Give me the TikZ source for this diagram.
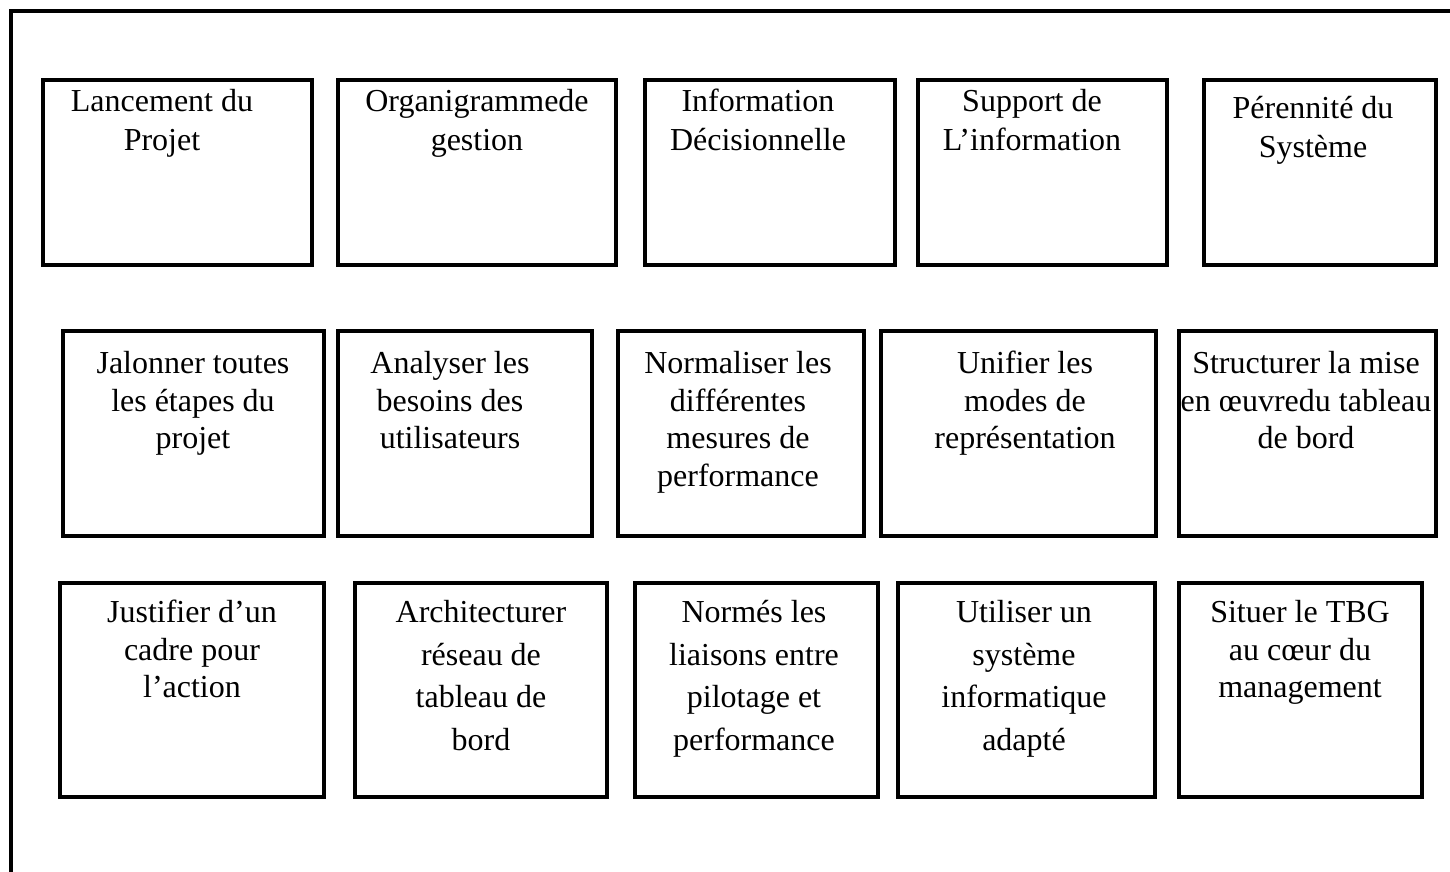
\documentclass[tikz,border=0pt]{standalone}
\usepackage{fontspec}
\setmainfont{Liberation Serif}
\usetikzlibrary{fit}
% fixed-height strut so that every first line sits at the same baseline
\newcommand\topstrut{\rule{0pt}{13pt}}
\begin{document}
\begin{tikzpicture}[x=0.5pt,y=-0.5pt,
  frame/.style={line width=2pt},
  cell/.style={draw, line width=2pt, rectangle, inner sep=0pt},
  txt/.style={anchor=north, align=center, inner sep=0pt, execute at begin node=\topstrut},
  txtA/.style={txt, font=\fontsize{16}{19.5}\selectfont},
  txtB/.style={txt, font=\fontsize{16}{18.75}\selectfont},
  txtC/.style={txt, font=\fontsize{16}{21.25}\selectfont}]
\useasboundingbox (0,0) rectangle (1450,872);
\clip (0,0) rectangle (1450,872);

% outer frame (runs past the page on the right and at the bottom)
\draw[frame] (11,11) rectangle (1480,900);

% row 1
\node[cell, fit={(43,80) (312,265)}] (b11) {};
\node[cell, fit={(338,80) (616,265)}] (b12) {};
\node[cell, fit={(645,80) (895,265)}] (b13) {};
\node[cell, fit={(918,80) (1167,265)}] (b14) {};
\node[cell, fit={(1204,80) (1436,265)}] (b15) {};

\node[txtA] (t11) at (162,88.5) {Lancement du\\Projet};
\node[txtA] (t12) at (477,88.5) {Organigrammede\\gestion};
\node[txtA] (t13) at (758,88.5) {Information\\Décisionnelle};
\node[txtA] (t14) at (1032,88.5) {Support de\\L’information};
\node[txtA] (t15) at (1313,95.5) {Pérennité du\\Système};

% row 2
\node[cell, fit={(63,331) (324,536)}] (b21) {};
\node[cell, fit={(338,331) (592,536)}] (b22) {};
\node[cell, fit={(618,331) (864,536)}] (b23) {};
\node[cell, fit={(881,331) (1156,536)}] (b24) {};
\node[cell, fit={(1179,331) (1436,536)}] (b25) {};

\node[txtB] (t21) at (193,351) {Jalonner toutes\\les étapes du\\projet};
\node[txtB] (t22) at (450,351) {Analyser les\\besoins des\\utilisateurs};
\node[txtB] (t23) at (738,351) {Normaliser les\\différentes\\mesures de\\performance};
\node[txtB] (t24) at (1025,351) {Unifier les\\modes de\\représentation};
\node[txtB] (t25) at (1306,351) {Structurer la mise\\en œuvredu tableau\\de bord};

% row 3
\node[cell, fit={(60,583) (324,797)}] (b31) {};
\node[cell, fit={(355,583) (607,797)}] (b32) {};
\node[cell, fit={(635,583) (878,797)}] (b33) {};
\node[cell, fit={(898,583) (1155,797)}] (b34) {};
\node[cell, fit={(1179,583) (1422,797)}] (b35) {};

\node[txtB] (t31) at (192,600) {Justifier d’un\\cadre pour\\l’action};
\node[txtC] (t32) at (481,600) {Architecturer\\réseau de\\tableau de\\bord};
\node[txtC] (t33) at (754,600) {Normés les\\liaisons entre\\pilotage et\\performance};
\node[txtC] (t34) at (1024,600) {Utiliser un\\système\\informatique\\adapté};
\node[txtB] (t35) at (1300,600) {Situer le TBG\\au cœur du\\management};
\end{tikzpicture}
\end{document}
